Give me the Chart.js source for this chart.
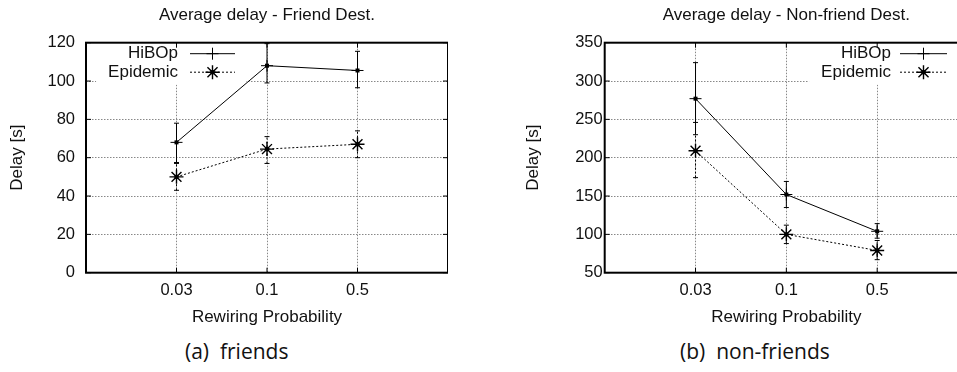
<!DOCTYPE html>
<html>
<head>
<meta charset="utf-8">
<script src="https://cdn.jsdelivr.net/npm/chart.js@4/dist/chart.umd.min.js"></script>
<style>
  html, body { margin: 0; padding: 0; background: #fff; overflow: hidden; width: 957px; height: 372px; }
  canvas { position: absolute; top: 0; }
  #friends { left: 0; }
  #nonfriends { left: 478px; }
  .caption { position: absolute; top: 339px; font-family: "Open Sans", sans-serif; font-size: 21px; line-height: 24px; white-space: pre; color: #111; }
</style>
</head>
<body>
<canvas id="friends" width="448" height="330"></canvas>
<canvas id="nonfriends" width="490" height="330"></canvas>
<div class="caption" id="capA" style="left:185px"></div>
<div class="caption" id="capB" style="left:680px"></div>
<script>
// x categories (drawn at equal spacing, like gnuplot's xtics at 1,2,3)
const rewiringLabels = ['0.03', '0.1', '0.5'];
const rewiringPos = [1, 2, 3];
const seriesNames = ['HiBOp', 'Epidemic'];

// (a) friends
const friendHibop = [68, 108, 105.5];
const friendHibopLow = [57.5, 99, 96.5];
const friendHibopHigh = [78, 119.5, 115.5];
const friendEpidemic = [50, 64.5, 67];
const friendEpidemicLow = [43, 57, 60];
const friendEpidemicHigh = [57, 71, 74];

// (b) non-friends
const nonHibop = [277, 152, 104];
const nonHibopLow = [230, 135, 95];
const nonHibopHigh = [324, 169, 114];
const nonEpidemic = [209, 100, 79];
const nonEpidemicLow = [174, 88, 67];
const nonEpidemicHigh = [246, 112, 92];

const captionA = '(a)  friends';
const captionB = '(b)  non-friends';

const FONT = '"Liberation Sans", Arial, sans-serif';
Chart.defaults.font.family = FONT;
Chart.defaults.color = '#111';

function toPoints(values) {
    return values.map((v, i) => ({ x: rewiringPos[i], y: v }));
}

function drawMarker(c, style, x, y, r) {
    c.beginPath();
    c.moveTo(x - r, y); c.lineTo(x + r, y);
    c.moveTo(x, y - r); c.lineTo(x, y + r);
    if (style === 'star') {
        const d = r * 0.72;
        c.moveTo(x - d, y - d); c.lineTo(x + d, y + d);
        c.moveTo(x - d, y + d); c.lineTo(x + d, y - d);
    }
    c.stroke();
}

// title over the plot, error bars, gnuplot style key and the closed frame
const gnuplotPlugin = {
    id: 'gnuKey',
    beforeDatasetsDraw(chart, args, opts) {
        const a = chart.chartArea;
        const c = chart.ctx;
        c.save();
        c.font = '17px ' + FONT;
        const maxW = Math.max(...chart.data.datasets.map(d => c.measureText(d.label).width));
        const tx = opts.side === 'left' ? a.left + opts.textX : a.right + opts.textX;
        c.fillStyle = '#fff';
        c.fillRect(tx - maxW - 12, a.top + 1, maxW + 12 + opts.gap + opts.len + 11, 41);
        c.restore();
    },
    afterDatasetsDraw(chart, args, opts) {
        const a = chart.chartArea;
        const c = chart.ctx;
        const ys = chart.scales.y;
        c.save();
        c.strokeStyle = '#000';
        c.fillStyle = '#000';
        c.lineWidth = 1;

        chart.data.datasets.forEach((ds, i) => {
            const meta = chart.getDatasetMeta(i);
            meta.data.forEach((pt, j) => {
                const lo = ys.getPixelForValue(ds.errLow[j]);
                const hi = ys.getPixelForValue(ds.errHigh[j]);
                c.setLineDash(ds.borderDash || []);
                c.beginPath();
                c.moveTo(pt.x, lo); c.lineTo(pt.x, hi);
                c.stroke();
                c.setLineDash([]);
                c.beginPath();
                c.moveTo(pt.x - 2.5, lo); c.lineTo(pt.x + 2.5, lo);
                c.moveTo(pt.x - 2.5, hi); c.lineTo(pt.x + 2.5, hi);
                c.stroke();
                c.fillRect(pt.x - 2, pt.y - 2, 4, 4);
            });
        });

        // key
        c.font = '17px ' + FONT;
        c.textAlign = 'right';
        c.textBaseline = 'middle';
        const tx = opts.side === 'left' ? a.left + opts.textX : a.right + opts.textX;
        chart.data.datasets.forEach((ds, i) => {
            const y = a.top + opts.rows[i];
            c.fillStyle = '#111';
            c.fillText(ds.label, tx, y);
            const x0 = tx + opts.gap, x1 = x0 + opts.len, xm = (x0 + x1) / 2;
            c.lineWidth = 1;
            c.setLineDash(ds.borderDash || []);
            c.beginPath(); c.moveTo(x0, y); c.lineTo(x1, y); c.stroke();
            c.setLineDash([]);
            c.lineWidth = ds.pointBorderWidth;
            drawMarker(c, ds.pointStyle, xm, y, ds.pointRadius);
            if (ds.pointStyle === 'star') {
                c.fillStyle = '#000';
                c.fillRect(xm - 2, y - 2, 4, 4);
            }
        });
        c.restore();
    },
    afterDraw(chart, args, opts) {
        const a = chart.chartArea;
        const c = chart.ctx;
        c.save();
        c.strokeStyle = '#000';
        c.lineWidth = 1;
        c.beginPath();
        chart.scales.x.ticks.forEach(t => {
            const x = chart.scales.x.getPixelForValue(t.value);
            c.moveTo(x, a.top); c.lineTo(x, a.top + 5);
            c.moveTo(x, a.bottom); c.lineTo(x, a.bottom - 5);
        });
        chart.scales.y.ticks.forEach(t => {
            const y = chart.scales.y.getPixelForValue(t.value);
            c.moveTo(a.left, y); c.lineTo(a.left + 5, y);
            c.moveTo(a.right, y); c.lineTo(a.right - 5, y);
        });
        c.stroke();
        c.lineWidth = 2;
        c.strokeRect(a.left, a.top, a.right - a.left, a.bottom - a.top);

        // title centred on the plot, as gnuplot does
        c.font = '17px ' + FONT;
        c.fillStyle = '#111';
        c.textAlign = 'center';
        c.textBaseline = 'middle';
        c.fillText(opts.title, (a.left + a.right) / 2, 15);
        c.restore();
    }
};

function makeChart(id, cfg) {
    const ctx = document.getElementById(id).getContext('2d');
    return new Chart(ctx, {
        type: 'line',
        data: {
            datasets: [{
                label: seriesNames[0],
                data: toPoints(cfg.hibop),
                errLow: cfg.hibopLow,
                errHigh: cfg.hibopHigh,
                borderColor: '#000',
                borderWidth: 1,
                pointStyle: 'cross',
                pointRadius: 6,
                pointBorderWidth: 1,
                pointBorderColor: '#000',
                tension: 0
            }, {
                label: seriesNames[1],
                data: toPoints(cfg.epidemic),
                errLow: cfg.epidemicLow,
                errHigh: cfg.epidemicHigh,
                borderColor: '#000',
                borderWidth: 1,
                borderDash: [2, 2],
                pointStyle: 'star',
                pointRadius: 7,
                pointBorderWidth: 1.4,
                pointBorderColor: '#000',
                tension: 0
            }]
        },
        options: {
            responsive: false,
            animation: false,
            devicePixelRatio: 1,
            layout: { autoPadding: false, padding: { top: 42.7, left: 0, right: 0, bottom: 0 } },
            plugins: {
                legend: { display: false },
                tooltip: { enabled: false },
                title: { display: false },
                gnuKey: Object.assign({ title: cfg.title }, cfg.key)
            },
            scales: {
                x: {
                    type: 'linear',
                    min: 0,
                    max: 4,
                    afterBuildTicks: s => { s.ticks = rewiringPos.map(v => ({ value: v })); },
                    afterFit: s => { s.height = 57.3; s.paddingLeft = 0; s.paddingRight = 0; },
                    ticks: {
                        callback: v => rewiringLabels[rewiringPos.indexOf(v)],
                        font: { size: 16.5 },
                        padding: 8,
                        maxRotation: 0,
                        autoSkip: false
                    },
                    grid: { color: '#888', lineWidth: 1, drawTicks: false },
                    border: { display: false, dash: [1.5, 1.5] },
                    title: {
                        display: true,
                        text: 'Rewiring Probability',
                        font: { size: 17 },
                        padding: { top: 0, bottom: 2.3 }
                    }
                },
                y: {
                    min: cfg.yMin,
                    max: cfg.yMax,
                    afterFit: s => { s.width = cfg.axisWidth; s.paddingTop = 0; s.paddingBottom = 0; },
                    ticks: { stepSize: cfg.yStep, font: { size: 16.5 }, padding: cfg.tickPad },
                    grid: { color: '#888', lineWidth: 1, drawTicks: false },
                    border: { display: false, dash: [1.5, 1.5] },
                    title: {
                        display: true,
                        text: 'Delay [s]',
                        font: { size: 17 },
                        padding: { top: cfg.yTitlePad, bottom: 0 }
                    }
                }
            }
        },
        plugins: [gnuplotPlugin]
    });
}

makeChart('friends', {
    title: 'Average delay - Friend Dest.',
    hibop: friendHibop, hibopLow: friendHibopLow, hibopHigh: friendHibopHigh,
    epidemic: friendEpidemic, epidemicLow: friendEpidemicLow, epidemicHigh: friendEpidemicHigh,
    yMin: 0, yMax: 120, yStep: 20,
    axisWidth: 86, tickPad: 11, yTitlePad: 6.8,
    key: { side: 'left', textX: 92, gap: 12, len: 45, rows: [11, 29.5] }
});

makeChart('nonfriends', {
    title: 'Average delay - Non-friend Dest.',
    hibop: nonHibop, hibopLow: nonHibopLow, hibopHigh: nonHibopHigh,
    epidemic: nonEpidemic, epidemicLow: nonEpidemicLow, epidemicHigh: nonEpidemicHigh,
    yMin: 50, yMax: 350, yStep: 50,
    axisWidth: 126.7, tickPad: 2, yTitlePad: 44.8,
    key: { side: 'right', textX: -77, gap: 9, len: 47, rows: [11, 29.5] }
});

document.getElementById('capA').textContent = captionA;
document.getElementById('capB').textContent = captionB;
</script>
</body>
</html>
